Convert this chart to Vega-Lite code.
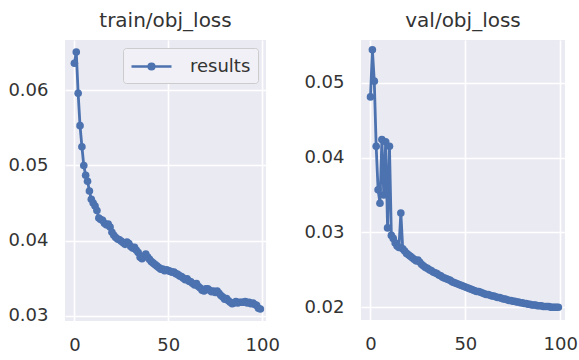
{
  "$schema": "https://vega.github.io/schema/vega-lite/v6.json",
  "background": "white",
  "padding": {"left": 7, "top": 11, "right": 5, "bottom": 5},
  "data": {"values": [
    {"epoch":0,"train":0.0636,"val":0.0481},{"epoch":1,"train":0.0651,"val":0.0544},{"epoch":2,"train":0.0596,"val":0.0502},{"epoch":3,"train":0.0553,"val":0.0415},{"epoch":4,"train":0.0525,"val":0.0357},
    {"epoch":5,"train":0.0500,"val":0.0339},{"epoch":6,"train":0.0487,"val":0.0424},{"epoch":7,"train":0.0479,"val":0.0350},{"epoch":8,"train":0.0466,"val":0.0421},{"epoch":9,"train":0.0455,"val":0.0306},
    {"epoch":10,"train":0.0450,"val":0.0415},{"epoch":11,"train":0.0446,"val":0.0296},{"epoch":12,"train":0.0440,"val":0.0292},{"epoch":13,"train":0.0430,"val":0.0286},{"epoch":14,"train":0.0428,"val":0.0282},
    {"epoch":15,"train":0.0427,"val":0.0280},{"epoch":16,"train":0.0423,"val":0.0326},{"epoch":17,"train":0.0421,"val":0.0278},{"epoch":18,"train":0.0422,"val":0.0275},{"epoch":19,"train":0.0418,"val":0.0272},
    {"epoch":20,"train":0.0411,"val":0.0270},{"epoch":21,"train":0.0407,"val":0.0268},{"epoch":22,"train":0.0404,"val":0.0266},{"epoch":23,"train":0.0402,"val":0.0264},{"epoch":24,"train":0.0401,"val":0.0262},
    {"epoch":25,"train":0.0399,"val":0.0263},{"epoch":26,"train":0.0397,"val":0.0260},{"epoch":27,"train":0.0395,"val":0.0257},{"epoch":28,"train":0.0398,"val":0.0255},{"epoch":29,"train":0.0396,"val":0.0253},
    {"epoch":30,"train":0.0392,"val":0.0252},{"epoch":31,"train":0.0390,"val":0.0250},{"epoch":32,"train":0.0391,"val":0.0249},{"epoch":33,"train":0.0387,"val":0.0247},{"epoch":34,"train":0.0384,"val":0.0246},
    {"epoch":35,"train":0.0378,"val":0.0245},{"epoch":36,"train":0.0376,"val":0.0243},{"epoch":37,"train":0.0379,"val":0.0242},{"epoch":38,"train":0.0382,"val":0.0240},{"epoch":39,"train":0.0378,"val":0.0239},
    {"epoch":40,"train":0.0375,"val":0.0238},{"epoch":41,"train":0.0372,"val":0.0237},{"epoch":42,"train":0.0370,"val":0.0236},{"epoch":43,"train":0.0368,"val":0.0234},{"epoch":44,"train":0.0366,"val":0.0233},
    {"epoch":45,"train":0.0364,"val":0.0232},{"epoch":46,"train":0.0362,"val":0.0231},{"epoch":47,"train":0.0362,"val":0.0230},{"epoch":48,"train":0.0360,"val":0.0229},{"epoch":49,"train":0.0361,"val":0.0228},
    {"epoch":50,"train":0.0360,"val":0.0227},{"epoch":51,"train":0.0359,"val":0.0226},{"epoch":52,"train":0.0358,"val":0.0225},{"epoch":53,"train":0.0358,"val":0.0224},{"epoch":54,"train":0.0356,"val":0.0223},
    {"epoch":55,"train":0.0355,"val":0.0222},{"epoch":56,"train":0.0353,"val":0.0221},{"epoch":57,"train":0.0352,"val":0.0221},{"epoch":58,"train":0.0350,"val":0.0220},{"epoch":59,"train":0.0348,"val":0.0219},
    {"epoch":60,"train":0.0349,"val":0.0218},{"epoch":61,"train":0.0346,"val":0.0217},{"epoch":62,"train":0.0345,"val":0.0217},{"epoch":63,"train":0.0343,"val":0.0216},{"epoch":64,"train":0.0341,"val":0.0215},
    {"epoch":65,"train":0.0343,"val":0.0215},{"epoch":66,"train":0.0339,"val":0.0214},{"epoch":67,"train":0.0337,"val":0.0213},{"epoch":68,"train":0.0334,"val":0.0213},{"epoch":69,"train":0.0333,"val":0.0212},
    {"epoch":70,"train":0.0336,"val":0.0211},{"epoch":71,"train":0.0336,"val":0.0211},{"epoch":72,"train":0.0334,"val":0.0210},{"epoch":73,"train":0.0332,"val":0.0209},{"epoch":74,"train":0.0333,"val":0.0209},
    {"epoch":75,"train":0.0331,"val":0.0208},{"epoch":76,"train":0.0333,"val":0.0208},{"epoch":77,"train":0.0330,"val":0.0207},{"epoch":78,"train":0.0327,"val":0.0207},{"epoch":79,"train":0.0325,"val":0.0206},
    {"epoch":80,"train":0.0322,"val":0.0206},{"epoch":81,"train":0.0323,"val":0.0205},{"epoch":82,"train":0.0320,"val":0.0205},{"epoch":83,"train":0.0318,"val":0.0204},{"epoch":84,"train":0.0316,"val":0.0204},
    {"epoch":85,"train":0.0317,"val":0.0203},{"epoch":86,"train":0.0319,"val":0.0203},{"epoch":87,"train":0.0317,"val":0.0203},{"epoch":88,"train":0.0318,"val":0.0202},{"epoch":89,"train":0.0318,"val":0.0202},
    {"epoch":90,"train":0.0318,"val":0.0202},{"epoch":91,"train":0.0319,"val":0.0201},{"epoch":92,"train":0.0317,"val":0.0201},{"epoch":93,"train":0.0318,"val":0.0201},{"epoch":94,"train":0.0316,"val":0.0201},
    {"epoch":95,"train":0.0317,"val":0.0200},{"epoch":96,"train":0.0315,"val":0.0200},{"epoch":97,"train":0.0314,"val":0.0200},{"epoch":98,"train":0.0310,"val":0.0200},{"epoch":99,"train":0.0309,"val":0.0200}
  ]},
  "spacing": 23,
  "resolve": {"legend": {"color": "independent"}, "scale": {"color": "independent"}},
  "hconcat": [
    {
      "title": "train/obj_loss",
      "width": 201,
      "height": 281,
      "layer": [
        {
          "mark": {"type": "line", "strokeWidth": 2.8, "color": "#4C72B0"},
          "encoding": {
            "x": {"field": "epoch", "type": "quantitative", "scale": {"domain": [-5, 102], "nice": false, "zero": false}, "axis": {"values": [0, 50, 100]}},
            "y": {"field": "train", "type": "quantitative", "scale": {"domain": [0.0293, 0.0667], "nice": false, "zero": false}, "axis": {"values": [0.03, 0.04, 0.05, 0.06], "format": ".2f"}},
            "color": {
              "datum": "results",
              "type": "nominal",
              "scale": {"range": ["#4C72B0"]},
              "legend": {
                "title": null,
                "orient": "top-right",
                "offset": 8,
                "symbolType": "M-1,0H3M0.72,0A0.28,0.28 0 1,1 1.28,0A0.28,0.28 0 1,1 0.72,0",
                "symbolSize": 400,
                "symbolStrokeWidth": 2.6,
                "labelOffset": 37,
                "labelFontSize": 18,
                "labelFont": "DejaVu Sans",
                "labelColor": "#333333",
                "padding": 7,
                "fillColor": "#F0F0F6",
                "strokeColor": "#CCCCCC",
                "cornerRadius": 3,
                "encode": {"symbols": {"update": {"fill": {"value": "#4C72B0"}, "stroke": {"value": "#4C72B0"}, "strokeWidth": {"value": 2.6}, "opacity": {"value": 1}}}}
              }
            }
          }
        },
        {
          "mark": {"type": "point", "filled": true, "size": 58, "opacity": 1, "color": "#4C72B0"},
          "encoding": {
            "x": {"field": "epoch", "type": "quantitative"},
            "y": {"field": "train", "type": "quantitative"}
          }
        }
      ]
    },
    {
      "title": "val/obj_loss",
      "width": 204,
      "height": 280,
      "layer": [
        {
          "mark": {"type": "line", "strokeWidth": 2.8, "color": "#4C72B0"},
          "encoding": {
            "x": {"field": "epoch", "type": "quantitative", "scale": {"domain": [-5, 102.5], "nice": false, "zero": false}, "axis": {"values": [0, 50, 100]}},
            "y": {"field": "val", "type": "quantitative", "scale": {"domain": [0.0183, 0.0557], "nice": false, "zero": false}, "axis": {"values": [0.02, 0.03, 0.04, 0.05], "format": ".2f"}}
          }
        },
        {
          "mark": {"type": "point", "filled": true, "size": 58, "opacity": 1, "color": "#4C72B0"},
          "encoding": {
            "x": {"field": "epoch", "type": "quantitative"},
            "y": {"field": "val", "type": "quantitative"}
          }
        }
      ]
    }
  ],
  "config": {
    "view": {"fill": "#EAEAF2", "stroke": null},
    "font": "DejaVu Sans",
    "axis": {
      "domain": false,
      "ticks": false,
      "title": null,
      "gridColor": "#FFFFFF",
      "gridWidth": 1.6,
      "gridOpacity": 1,
      "labelFont": "DejaVu Sans",
      "labelFontSize": 18,
      "labelColor": "#333333",
      "labelFlush": false,
      "labelOverlap": false
    },
    "axisX": {"labelPadding": 15},
    "axisY": {"labelPadding": 17},
    "title": {"font": "DejaVu Sans", "fontSize": 20, "fontWeight": "normal", "color": "#333333", "offset": 9, "anchor": "middle"}
  }
}
